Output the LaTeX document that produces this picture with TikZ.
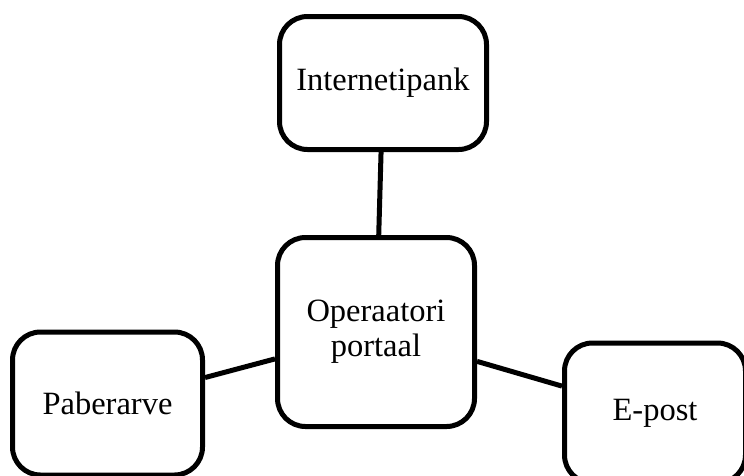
\documentclass[tikz,border=0pt]{standalone}
\usepackage{fontspec}
\setmainfont{Liberation Serif}
\usepackage{tikz}

\begin{document}
\begin{tikzpicture}[x=1pt,y=-1pt,
        box/.style={draw,line width=5pt,rounded corners=28pt,align=center,
            font=\fontsize{32.5}{35}\selectfont,inner sep=0pt},
        link/.style={line width=5pt}]
        \useasboundingbox (0,0) rectangle (744,475);

        \node[box,minimum width=207pt,minimum height=133pt] (pank) at (383,83) {Internetipank};
        \node[box,minimum width=197pt,minimum height=189pt] (portaal) at (376,332) {Operaatori\\portaal};
        \node[box,minimum width=190pt,minimum height=143pt] (paber) at (107.5,403.5) {Paberarve};
        \node[box,minimum width=181pt,minimum height=140pt] (epost) at (655,413) {E-post};

        \draw[link] (pank) -- (portaal);
        \draw[link] (paber) -- (portaal);
        \draw[link] (portaal) -- (epost);
\end{tikzpicture}
\end{document}
